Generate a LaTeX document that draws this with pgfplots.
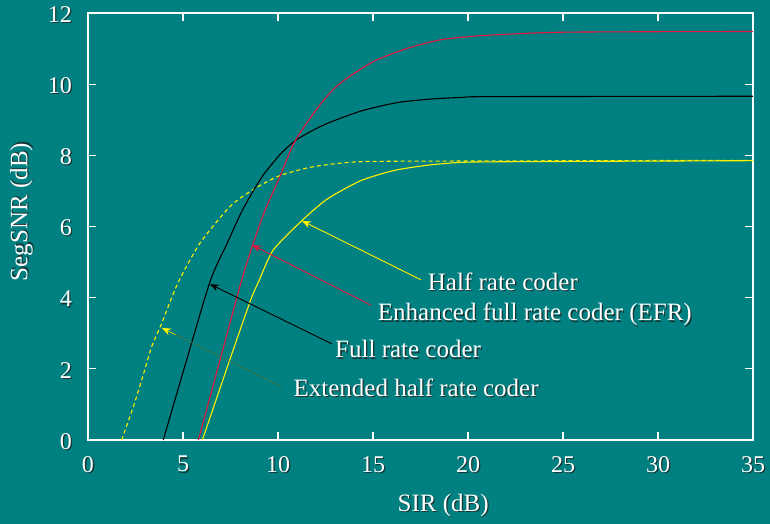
\documentclass[border=0pt]{standalone}
\usepackage{fontspec}
\setmainfont{Liberation Serif}
\usepackage{pgfplots}
\pgfplotsset{compat=1.18}
\usetikzlibrary{arrows.meta,calc,backgrounds}
\definecolor{bgteal}{RGB}{0,128,128}
\definecolor{efrred}{RGB}{228,18,62}
\definecolor{extline}{RGB}{80,120,60}
\definecolor{shadowc}{RGB}{25,55,55}
\newcommand\sh[1]{\rlap{\kern1.3pt\raisebox{-1.3pt}{\textcolor{shadowc}{#1}}}#1}
\begin{document}
\fontsize{25}{29}\selectfont
\begin{tikzpicture}[x=1pt,y=1pt]
\begin{axis}[
  width=665pt, height=427pt, scale only axis,
  xmin=0, xmax=35, ymin=0, ymax=12,
  xtick={0,5,...,35}, ytick={0,2,...,12},
  axis line style={white, line width=1.2pt},
  tick style={white, line width=1.2pt},
  major tick length=8pt,
  tick align=inside,
  /pgf/number format/assume math mode=true,
  ticklabel style={text=white, font=\fontsize{24}{28}\selectfont, inner sep=0pt},
  xticklabel={\sh{\pgfmathprintnumber{\tick}}},
  yticklabel={\sh{\pgfmathprintnumber{\tick}}},
  xticklabel style={anchor=north, yshift=-16pt},
  yticklabel style={anchor=east, xshift=-16pt, yshift=-2pt},
  xlabel={\sh{SIR (dB)}}, ylabel={\sh{SegSNR (dB)}},
  label style={text=white, font=\fontsize{25}{29}\selectfont},
  xlabel style={at={(axis description cs:0.534,-0.1546)}, anchor=center},
  ylabel style={at={(axis description cs:-0.0992,0.534)}, anchor=center},
]
\coordinate (O) at (rel axis cs:0,0);
% Extended half rate coder (dashed yellow)
\addplot[yellow, line width=1.1pt, dash pattern=on 4pt off 3pt, smooth, tension=0.4] coordinates {
(1.77,0) (2.39,0.94) (2.88,1.78) (3.35,2.62) (3.88,3.28) (4.72,4.40) (5.89,5.53) (7.47,6.56) (8.7,7.04) (10.1,7.43) (11.86,7.68) (14.3,7.82) (19.6,7.84) (35,7.86)};
% Full rate coder (black)
\addplot[black, line width=1.1pt, smooth, tension=0.4] coordinates {
(3.96,0) (5.0,1.9) (6.42,4.45) (7.3,5.5) (8.09,6.42) (8.7,7.0) (9.23,7.45) (10.1,8.02) (10.9,8.41) (11.86,8.71) (12.74,8.93) (14.4,9.25) (16.25,9.48) (18,9.58) (19.75,9.63) (21.2,9.65) (35,9.66)};
% Enhanced full rate coder (red)
\addplot[efrred, line width=1.1pt, smooth, tension=0.4] coordinates {
(5.81,0) (7.0,2.35) (8.09,4.5) (8.7,5.53) (9.32,6.46) (10.1,7.4) (10.9,8.41) (12.25,9.45) (13.26,10.02) (15,10.63) (16.77,11.0) (18.5,11.24) (20.6,11.36) (25,11.46) (35,11.48)};
% Half rate coder (yellow)
\addplot[yellow, line width=1.1pt, smooth, tension=0.4] coordinates {
(6.02,0) (7.3,2.0) (8.53,3.89) (9.02,4.5) (9.75,5.34) (11.25,6.16) (12.56,6.76) (14.32,7.28) (16.07,7.57) (17.83,7.72) (19.58,7.80) (22,7.82) (35,7.85)};
% annotations
\draw[yellow, line width=0.9pt, -{Stealth[length=9pt,width=7pt]}] (axis cs:17.53,4.50) -- (axis cs:11.26,6.16);
\draw[efrred, line width=0.9pt, -{Stealth[length=9pt,width=7pt]}] (axis cs:14.89,3.79) -- (axis cs:8.63,5.48);
\draw[black, line width=0.9pt, -{Stealth[length=9pt,width=7pt]}] (axis cs:12.84,2.70) -- (axis cs:6.42,4.38);
\draw[extline, line width=0.6pt] (axis cs:10.21,1.49) -- (axis cs:4.3,3.04);
\draw[yellow, line width=0.6pt, -{Stealth[length=9pt,width=7pt]}] (axis cs:4.6,2.96) -- (axis cs:3.89,3.15);
\node[anchor=base west, text=white, inner sep=0pt] at (axis cs:17.88,4.196) {\sh{Half rate coder}};
\node[anchor=base west, text=white, inner sep=0pt] at (axis cs:15.25,3.345) {\sh{Enhanced full rate coder (EFR)}};
\node[anchor=base west, text=white, inner sep=0pt] at (axis cs:13.0,2.305) {\sh{Full rate coder}};
\node[anchor=base west, text=white, inner sep=0pt] at (axis cs:10.81,1.217) {\sh{Extended half rate coder}};
\end{axis}
\begin{scope}[on background layer]
\fill[bgteal] ($(O)+(-88pt,-84pt)$) rectangle ($(O)+(682pt,440pt)$);
\end{scope}
\pgfresetboundingbox
\path ($(O)+(-88pt,-84pt)$) rectangle ($(O)+(682pt,440pt)$);
\end{tikzpicture}
\end{document}
